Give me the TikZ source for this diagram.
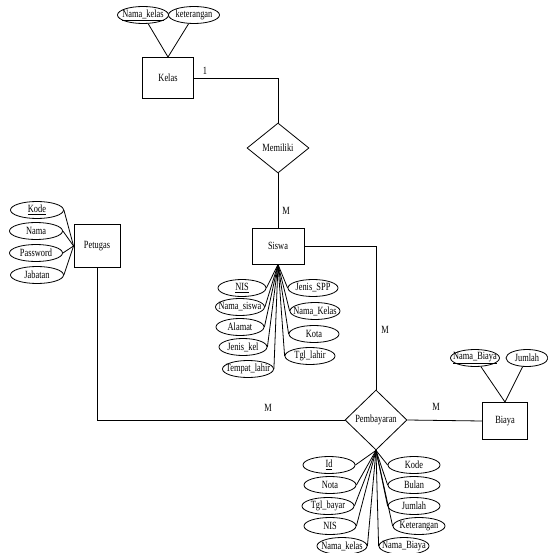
\documentclass[tikz,border=0pt]{standalone}
\usepackage{fontspec}
\setmainfont{Liberation Serif}[FakeStretch=0.76]
\usetikzlibrary{shapes.geometric}
\tikzset{
  entity/.style={draw, rectangle, line width=0.9pt, inner sep=0pt},
  attr/.style={draw, ellipse, line width=0.8pt, inner sep=0pt, minimum height=17pt},
  rel/.style={draw, diamond, line width=0.8pt, inner sep=0pt, aspect=1},
  link/.style={line width=0.8pt},
  card/.style={inner sep=0pt},
}
% ellipse attribute: name, position, width, text
\newcommand{\attrib}[4]{\node[attr, minimum width=#3pt, label={center:#4}] (#1) at (#2) {};}
\begin{document}
\begin{tikzpicture}[x=1pt, y=-1pt, font=\fontsize{11}{13}\selectfont]
\useasboundingbox (0,0) rectangle (547,553);

% entities
\node[entity, minimum width=51pt, minimum height=41pt] (kelas) at (168,78) {Kelas};
\node[entity, minimum width=52pt, minimum height=36pt] (siswa) at (278,246) {Siswa};
\node[entity, minimum width=46pt, minimum height=43pt] (petugas) at (97,246) {Petugas};
\node[entity, minimum width=45pt, minimum height=37pt] (biaya) at (505,421) {Biaya};

% relationships
\node[rel, minimum width=62pt, minimum height=50pt, label={center:Memiliki}] (memiliki) at (278,148) {};
\node[rel, minimum width=62pt, minimum height=60pt, label={center:Pembayaran}] (pemb) at (376,420) {};

% Kelas attributes
\attrib{knama}{143,15}{51}{\underline{Nama\_kelas}}
\attrib{kket}{194,15}{51}{keterangan}
\foreach \a in {knama,kket} \draw[link] (\a) -- (kelas.north);

% Petugas attributes
\attrib{pkode}{37,210}{53}{\underline{Kode}}
\attrib{pnama}{36,231}{53}{Nama}
\attrib{ppass}{36,253}{53}{Password}
\attrib{pjab}{37,275}{53}{Jabatan}
\foreach \a in {pkode,pnama,ppass,pjab} \draw[link] (\a.east) -- (petugas.west);

% Siswa attributes
\attrib{snis}{242,288}{48}{\underline{NIS}}
\attrib{snama}{240,307}{49}{Nama\_siswa}
\attrib{salamat}{240,327}{48}{Alamat}
\attrib{sjk}{243,347}{48}{Jenis\_kel}
\attrib{stempat}{248,369}{51}{Tempat\_lahir}
\attrib{sspp}{313,288}{50}{Jenis\_SPP}
\attrib{skelas}{315,311}{50}{Nama\_Kelas}
\attrib{skota}{314,334}{50}{Kota}
\attrib{stgl}{310,356}{50}{Tgl\_lahir}
\foreach \a in {snis,snama,salamat,sjk,stempat}
  \draw[link] (\a.east) -- (siswa.south);
\foreach \a in {sspp,skelas,skota,stgl}
  \draw[link] (\a.west) -- (siswa.south);

% Biaya attributes
\attrib{bnama}{475,358}{49}{\underline{Nama\_Biaya}}
\attrib{bjml}{527,358}{42}{Jumlah}
\foreach \a in {bnama,bjml} \draw[link] (\a) -- (biaya.north);

% Pembayaran attributes
\attrib{yid}{329,465}{52}{\underline{Id}}
\attrib{ynota}{330,485}{52}{Nota}
\attrib{ytgl}{328,506}{52}{Tgl\_bayar}
\attrib{ynis}{330,526}{52}{NIS}
\attrib{ykelas}{342,546}{50}{Nama\_kelas}
\attrib{ykode}{414,465}{52}{Kode}
\attrib{ybulan}{414,485}{52}{Bulan}
\attrib{yjml}{414,506}{52}{Jumlah}
\attrib{yket}{419,526}{52}{Keterangan}
\attrib{ynb}{404,546}{50}{Nama\_Biaya}
\foreach \a in {yid,ynota,ytgl,ynis,ykelas}
  \draw[link] (\a.east) -- (pemb.south);
\foreach \a in {ykode,ybulan,yjml,yket,ynb}
  \draw[link] (\a.west) -- (pemb.south);

% relationship connectors
\draw[link] (kelas.east) -| (memiliki.north);
\draw[link] (memiliki.south) -- (siswa.north);
\draw[link] (siswa.east) -| (pemb.north);
\draw[link] (petugas.south) |- (pemb.west);
\draw[link] (pemb.east) -- (biaya.west);

% cardinalities
\node[card] (c1) at (205,71) {1};
\node[card] (c2) at (286,211) {M};
\node[card] (c3) at (385,330) {M};
\node[card] (c4) at (268,408) {M};
\node[card] (c5) at (436,407) {M};
\end{tikzpicture}
\end{document}
